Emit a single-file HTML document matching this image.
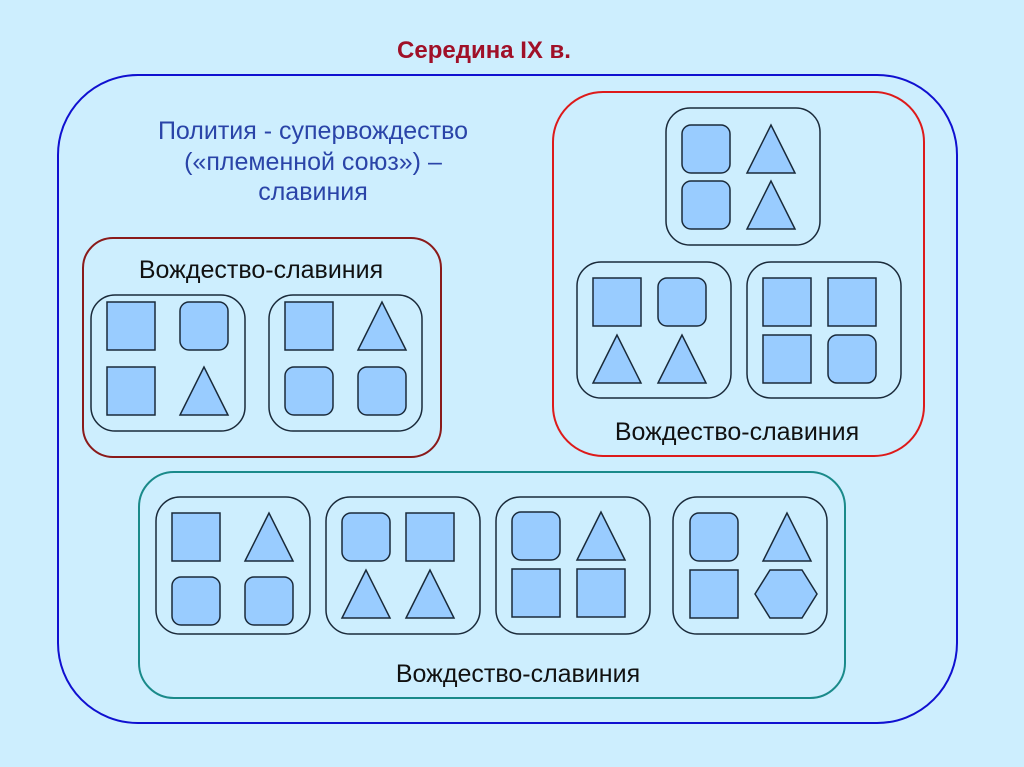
<!DOCTYPE html>
<html><head><meta charset="utf-8"><style>
body{margin:0;background:#cdeefe}
svg{display:block}
text{font-family:"Liberation Sans",sans-serif}
</style></head><body>
<svg width="1024" height="767" viewBox="0 0 1024 767" xmlns="http://www.w3.org/2000/svg">
<rect width="1024" height="767" fill="#cdeefe"/>
<defs>
<rect id="S" width="48" height="48" fill="#99ccff" stroke="#1a2a3a" stroke-width="1.5"/>
<rect id="R" width="48" height="48" rx="9" fill="#99ccff" stroke="#1a2a3a" stroke-width="1.5"/>
<polygon id="T" points="24,0 0,48 48,48" fill="#99ccff" stroke="#1a2a3a" stroke-width="1.5"/>
<polygon id="H" points="15,0 47,0 62,24 47,48 15,48 0,24" fill="#99ccff" stroke="#1a2a3a" stroke-width="1.5"/>
</defs>
<text x="484" y="58" text-anchor="middle" font-size="24" font-weight="bold" fill="#a01028">Середина IX в.</text>
<rect x="58" y="75" width="899" height="648" rx="80" fill="none" stroke="#1010d0" stroke-width="2"/>
<g font-size="25" fill="#2a44a8" text-anchor="middle">
<text x="313" y="139">Полития - супервождество</text>
<text x="313" y="170">(«племенной союз») –</text>
<text x="313" y="200">славиния</text>
</g>
<rect x="83" y="238" width="358" height="219" rx="30" fill="none" stroke="#8a1a1a" stroke-width="2"/>
<rect x="553" y="92" width="371" height="364" rx="50" fill="none" stroke="#dd1a1a" stroke-width="2"/>
<rect x="139" y="472" width="706" height="226" rx="35" fill="none" stroke="#1a8a8a" stroke-width="2"/>
<g font-size="25" fill="#111" text-anchor="middle">
<text x="261" y="278">Вождество-славиния</text>
<text x="737" y="440">Вождество-славиния</text>
<text x="518" y="682">Вождество-славиния</text>
</g>
<g fill="none" stroke="#1a2a3a" stroke-width="1.5">
<rect x="91" y="295" width="154" height="136" rx="24"/>
<rect x="269" y="295" width="153" height="136" rx="24"/>
<rect x="666" y="108" width="154" height="137" rx="24"/>
<rect x="577" y="262" width="154" height="136" rx="24"/>
<rect x="747" y="262" width="154" height="136" rx="24"/>
<rect x="156" y="497" width="154" height="137" rx="24"/>
<rect x="326" y="497" width="154" height="137" rx="24"/>
<rect x="496" y="497" width="154" height="137" rx="24"/>
<rect x="673" y="497" width="154" height="137" rx="24"/>
</g>
<use href="#S" x="107" y="302"/><use href="#R" x="180" y="302"/><use href="#S" x="107" y="367"/><use href="#T" x="180" y="367"/>
<use href="#S" x="285" y="302"/><use href="#T" x="358" y="302"/><use href="#R" x="285" y="367"/><use href="#R" x="358" y="367"/>
<use href="#R" x="682" y="125"/><use href="#T" x="747" y="125"/><use href="#R" x="682" y="181"/><use href="#T" x="747" y="181"/>
<use href="#S" x="593" y="278"/><use href="#R" x="658" y="278"/><use href="#T" x="593" y="335"/><use href="#T" x="658" y="335"/>
<use href="#S" x="763" y="278"/><use href="#S" x="828" y="278"/><use href="#S" x="763" y="335"/><use href="#R" x="828" y="335"/>
<use href="#S" x="172" y="513"/><use href="#T" x="245" y="513"/><use href="#R" x="172" y="577"/><use href="#R" x="245" y="577"/>
<use href="#R" x="342" y="513"/><use href="#S" x="406" y="513"/><use href="#T" x="342" y="570"/><use href="#T" x="406" y="570"/>
<use href="#R" x="512" y="512"/><use href="#T" x="577" y="512"/><use href="#S" x="512" y="569"/><use href="#S" x="577" y="569"/>
<use href="#R" x="690" y="513"/><use href="#T" x="763" y="513"/><use href="#S" x="690" y="570"/><use href="#H" x="755" y="570"/>
</svg>
</body></html>
